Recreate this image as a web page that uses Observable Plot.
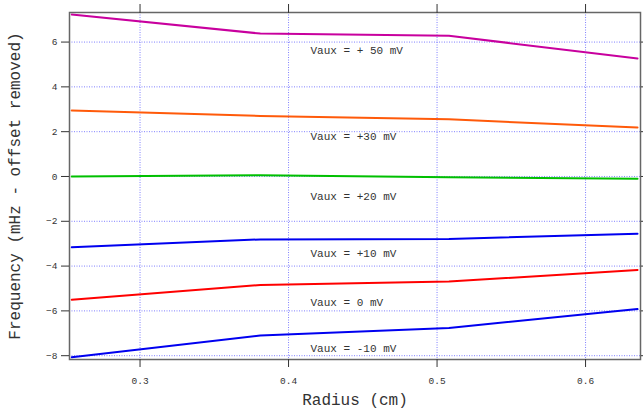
<!DOCTYPE html>
<html>
<head>
<meta charset="utf-8">
<script src="https://cdn.jsdelivr.net/npm/d3@7"></script>
<script src="https://cdn.jsdelivr.net/npm/@observablehq/plot@0.6"></script>
<style>
  body { margin: 0; background: #fff; }
  svg { display: block; }
</style>
</head>
<body>
<div id="chart"></div>
<script>
const radius = [0.254, 0.381, 0.508, 0.635];
const vaux50 = [7.23, 6.38, 6.28, 5.27];
const vaux30 = [2.95, 2.70, 2.55, 2.19];
const vaux20 = [0.00, 0.06, -0.03, -0.10];
const vaux10 = [-3.16, -2.81, -2.79, -2.56];
const vaux0 = [-5.50, -4.84, -4.69, -4.17];
const vauxM10 = [-8.07, -7.10, -6.76, -5.92];

const seriesNames = ["+50", "+30", "+20", "+10", "0", "-10"];
const seriesValues = [vaux50, vaux30, vaux20, vaux10, vaux0, vauxM10];
const seriesColors = ["#c8009e", "#ff5a0a", "#00c000", "#0000f0", "#ff0000", "#0000f0"];

const labelTexts = ["Vaux = + 50 mV", "Vaux = +30 mV", "Vaux = +20 mV", "Vaux = +10 mV", "Vaux = 0 mV", "Vaux = -10 mV"];
const labelY = [5.62, 1.79, -0.89, -3.44, -5.63, -7.68];
const labelX = 0.4148;

const xTicks = [0.3, 0.4, 0.5, 0.6];
const yTicks = [-8, -6, -4, -2, 0, 2, 4, 6];

const rows = [];
seriesNames.forEach((s, i) => radius.forEach((r, j) => rows.push({series: s, r, f: seriesValues[i][j]})));
const labels = labelTexts.map((t, i) => ({t, x: labelX, y: labelY[i]}));

const mono = "'Courier New', 'Liberation Mono', 'DejaVu Sans Mono', monospace";

const chart = Plot.plot({
  width: 643,
  height: 416,
  marginLeft: 69,
  marginRight: 3,
  marginTop: 12,
  marginBottom: 57,
  style: {fontFamily: mono, background: "#fff", color: "#333"},
  x: {domain: [0.2525, 0.637], ticks: xTicks},
  y: {domain: [-8.17, 7.32], ticks: yTicks},
  color: {domain: seriesNames, range: seriesColors},
  marks: [
    Plot.gridX(xTicks, {stroke: "#6a6aff", strokeOpacity: 0.85, strokeDasharray: "1,1.5"}),
    Plot.gridY(yTicks, {stroke: "#6a6aff", strokeOpacity: 0.85, strokeDasharray: "1,1.5"}),
    Plot.line(rows, {x: "r", y: "f", z: "series", stroke: "series", strokeWidth: 2}),
    Plot.text(labels, {x: "x", y: "y", text: "t", textAnchor: "start", fontSize: 11, fill: "#333", fontFamily: mono}),
    Plot.frame({stroke: "#666", strokeWidth: 1.5}),
    Plot.axisX(xTicks, {anchor: "bottom", tickSize: 8, tickPadding: 10, fontSize: 9.5, label: null, tickFormat: d => d.toFixed(1), stroke: "#333"}),
    Plot.axisX(xTicks, {anchor: "top", tickSize: 9, tickFormat: () => "", label: null, stroke: "#333"}),
    Plot.axisY(yTicks, {anchor: "left", tickSize: 8, tickPadding: 4, fontSize: 9.5, label: null, stroke: "#333"}),
    Plot.axisY(yTicks, {anchor: "right", tickSize: 4, tickFormat: () => "", label: null, stroke: "#333"}),
    Plot.text(["Radius (cm)"], {frameAnchor: "bottom", dy: 45, fontSize: 16, fill: "#333", fontFamily: mono}),
    Plot.text(["Frequency (mHz - offset removed)"], {frameAnchor: "left", textAnchor: "middle", dx: -55, rotate: -90, fontSize: 16, fill: "#333", fontFamily: mono})
  ]
});
document.getElementById("chart").appendChild(chart);
</script>
</body>
</html>
